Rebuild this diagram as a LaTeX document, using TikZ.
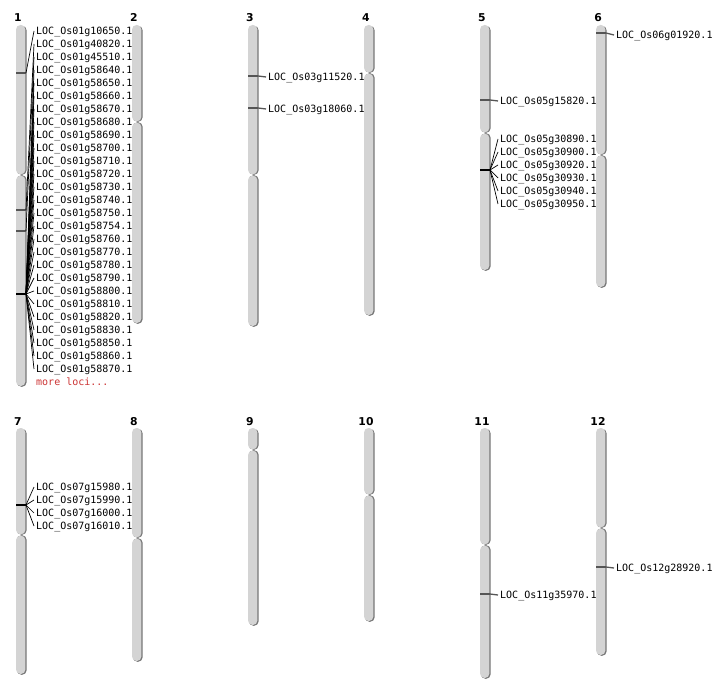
\documentclass[tikz,border=0pt]{standalone}
\usepackage{fontspec}
\setmonofont{DejaVu Sans Mono}
\newfontfamily\numfont{DejaVu Sans}
\definecolor{bodyc}{HTML}{D4D4D4}
\definecolor{shadowc}{HTML}{767676}
\definecolor{markc}{HTML}{555555}
\definecolor{morec}{HTML}{CC3333}
\tikzset{
  numlab/.style={font=\numfont\bfseries\fontsize{10.8}{12}\selectfont, anchor=base, inner sep=0pt},
  loclab/.style={font=\ttfamily\fontsize{10}{12}\selectfont, anchor=west, inner xsep=2pt, inner ysep=0pt, text height=6.8pt, text depth=0pt},
  singlemark/.style={draw=markc, line width=1.3pt},
  clustermark/.style={draw=black, line width=2.4pt},
  conn/.style={draw=black, line width=0.7pt},
  hconn/.style={draw=markc, line width=1.3pt},
}
\newcommand\chromo[5]{%
  \fill[shadowc, rounded corners=4.5pt] ({#2-4},{#3+0.8}) rectangle ({#2+5.6},{#4-0.2});
  \fill[shadowc, rounded corners=4.5pt] ({#2-4},{#4+0.2}) rectangle ({#2+5.6},{#5+0.8});
  \fill[bodyc, rounded corners=4.5pt] ({#2-5},#3) rectangle ({#2+4.4},{#4-0.6});
  \fill[bodyc, rounded corners=4.5pt] ({#2-5},{#4+0.6}) rectangle ({#2+4.4},#5);
  \node[numlab] (n#1) at ({#2-3},{#3-3}) {#1};
}
\begin{document}
\begin{tikzpicture}[x=1pt,y=-1pt]
\fill[white] (0,0) rectangle (712,700);
\useasboundingbox (0,0) rectangle (712,700);
% chromosomes: name, x, top, centromere, bottom
\chromo{1}{21}{25}{175}{386}
\chromo{2}{137}{25}{122}{323}
\chromo{3}{253}{25}{175}{326}
\chromo{4}{369}{25}{73}{315}
\chromo{5}{485}{25}{133}{270}
\chromo{6}{601}{25}{155}{287}
\chromo{7}{21}{428}{535}{674}
\chromo{8}{137}{428}{538}{661}
\chromo{9}{253}{428}{450}{625}
\chromo{10}{369}{428}{495}{621}
\chromo{11}{485}{428}{545}{678}
\chromo{12}{601}{428}{528}{655}

% ---- chromosome 1
\draw[singlemark] (16,73) -- (26,73) coordinate (m1a);
\draw[singlemark] (16,210) -- (26,210) coordinate (m1b);
\draw[singlemark] (16,231) -- (26,231) coordinate (m1c);
\node[loclab] (l1-1) at (34,31) {LOC\_Os01g10650.1};
\node[loclab] (l1-2) at (34,44) {LOC\_Os01g40820.1};
\node[loclab] (l1-3) at (34,57) {LOC\_Os01g45510.1};
\draw[conn] (m1a) -- (l1-1.west);
\draw[conn] (m1b) -- (l1-2.west);
\draw[conn] (m1c) -- (l1-3.west);
\coordinate (m1d) at (26,294);
\foreach \g [count=\i from 4] in {58640,58650,58660,58670,58680,58690,58700,58710,58720,58730,58740,58750,58754,58760,58770,58780,58790,58800,58810,58820,58830,58850,58860,58870}{
  \node[loclab] (l1-\i) at (34,{31+13*(\i-1)}) {LOC\_Os01g\g.1};
  \draw[conn] (m1d) -- (l1-\i.west);
}
\draw[clustermark] (16,294) -- (m1d);
\node[loclab, text=morec] (more1) at (34,382) {more loci...};

% ---- chromosome 3
\draw[singlemark] (248,76) -- (258,76) coordinate (m3a);
\draw[singlemark] (248,108) -- (258,108) coordinate (m3b);
\node[loclab] (l3-1) at (266,77) {LOC\_Os03g11520.1};
\node[loclab] (l3-2) at (266,109) {LOC\_Os03g18060.1};
\draw[hconn] (m3a) -- (l3-1.west);
\draw[hconn] (m3b) -- (l3-2.west);

% ---- chromosome 5
\draw[singlemark] (480,100) -- (490,100) coordinate (m5a);
\node[loclab] (l5-1) at (498,101) {LOC\_Os05g15820.1};
\draw[hconn] (m5a) -- (l5-1.west);
\coordinate (m5b) at (490,170);
\foreach \g [count=\i from 0] in {30890,30900,30920,30930,30940,30950}{
  \node[loclab] (l5-c\i) at (498,{139+13*\i}) {LOC\_Os05g\g.1};
  \draw[conn] (m5b) -- (l5-c\i.west);
}
\draw[clustermark] (480,170) -- (m5b);

% ---- chromosome 6
\draw[singlemark] (596,33) -- (606,33) coordinate (m6a);
\node[loclab] (l6-1) at (614,35) {LOC\_Os06g01920.1};
\draw[hconn] (m6a) -- (l6-1.west);

% ---- chromosome 7
\coordinate (m7a) at (26,505);
\foreach \g [count=\i from 0] in {15980,15990,16000,16010}{
  \node[loclab] (l7-\i) at (34,{487+13*\i}) {LOC\_Os07g\g.1};
  \draw[conn] (m7a) -- (l7-\i.west);
}
\draw[clustermark] (16,505) -- (m7a);

% ---- chromosome 11
\draw[singlemark] (480,594) -- (490,594) coordinate (m11a);
\node[loclab] (l11-1) at (498,595) {LOC\_Os11g35970.1};
\draw[hconn] (m11a) -- (l11-1.west);

% ---- chromosome 12
\draw[singlemark] (596,567) -- (606,567) coordinate (m12a);
\node[loclab] (l12-1) at (614,568) {LOC\_Os12g28920.1};
\draw[hconn] (m12a) -- (l12-1.west);
\end{tikzpicture}
\end{document}
